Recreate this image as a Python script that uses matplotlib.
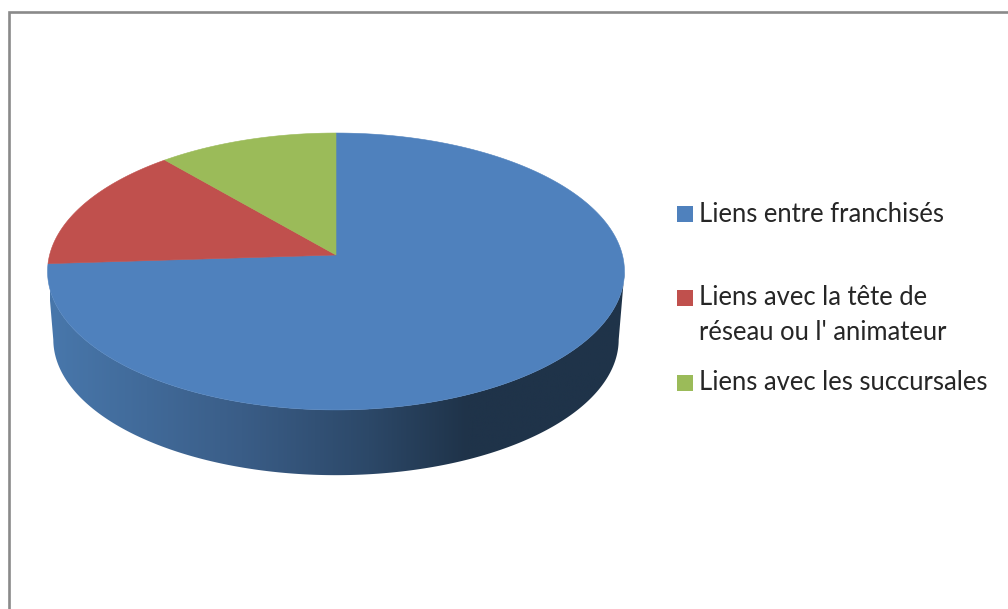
import numpy as np
import matplotlib
matplotlib.use("Agg")
import matplotlib.pyplot as plt
from matplotlib.colors import LinearSegmentedColormap
from matplotlib.path import Path
from matplotlib.patches import PathPatch, Rectangle
from matplotlib.transforms import Transform, Affine2D

# ---- data ----
categories = ["Liens entre franchisés",
              "Liens avec la tête de\nréseau ou l' animateur",
              "Liens avec les succursales"]
values = [74, 14.7, 11.3]
colors = ["#4F81BD", "#C0504D", "#9BBB59"]

# ---- layout (image pixels) ----
W, H = 1008, 609
CX, CY = 336.0, 255.0      # apex of the slices
RX, RY, Q = 286.4, 136.5, 0.119   # perspective of the disc
DROP, SHRINK = 68.0, 0.98  # depth of the side wall


class DiscPerspective(Transform):
    input_dims = output_dims = 2

    def transform_non_affine(self, values):
        v = np.asarray(values, float)
        d = 1 + Q * v[:, 1]
        return np.column_stack((CX + RX * v[:, 0] / d, CY - RY * v[:, 1] / d))

    def transform_path_non_affine(self, path):
        polys = path.transformed(Affine2D().scale(2000)).to_polygons(closed_only=True)
        return Path(self.transform_non_affine(np.vstack(polys) / 2000))


fig = plt.figure(figsize=(W / 100, H / 100), dpi=100, facecolor="white")
ax = fig.add_axes([0, 0, 1, 1])

wedges, _ = ax.pie(values, colors=colors, startangle=90, counterclock=False,
                   radius=1, wedgeprops={"linewidth": 0})
ax.set_aspect("auto")
ax.axis("off")

persp = DiscPerspective()
for w, c in zip(wedges, colors):
    w.set_transform(persp + ax.transData)
    w.set_zorder(3)
    w.set_edgecolor(c)
    w.set_linewidth(0.4)

# side wall of the disc, with horizontal shading
t = np.radians(np.linspace(0, 360, 1441))
rim = persp.transform_non_affine(np.column_stack((np.cos(t), np.sin(t))))
ecx = (rim[:, 0].max() + rim[:, 0].min()) / 2
ecy = (rim[:, 1].max() + rim[:, 1].min()) / 2
lower = rim[rim[:, 1] >= ecy]
lower = lower[np.argsort(lower[:, 0])]
base = np.column_stack((ecx + (lower[:, 0] - ecx) * SHRINK,
                        ecy + DROP + (lower[:, 1] - ecy) * SHRINK))
outline = np.vstack((lower, base[::-1]))
clip = PathPatch(Path(np.vstack((outline, outline[:1])), closed=True),
                 transform=ax.transData, fc="none", ec="none")
ax.add_patch(clip)
cmap = LinearSegmentedColormap.from_list(
    "side", [(0, "#4877AB"), (0.33, "#3A5D87"), (0.55, "#2C4868"),
             (0.72, "#1F3349"), (1, "#1F3349")])
grad = np.linspace(0, 1, 256)[None, :]
im = ax.imshow(grad, cmap=cmap, extent=[50, 630, 500, 250], aspect="auto", zorder=2)
im.set_clip_path(clip)
ax.set_xlim(0, W)
ax.set_ylim(H, 0)

# frame of the chart area
ax.plot([9, 9, W], [H, 12, 12], color="#8A8A8A", lw=1.9, solid_joinstyle="miter", zorder=1)

# legend
font = dict(family="Lato", fontsize=18.45, color="#262626", va="center", ha="left")
label_y = [214.5, 315, 383]
square_y = [213.5, 298, 382.5]
for c, lab, ly, sy in zip(colors, categories, label_y, square_y):
    ax.add_patch(Rectangle((677, sy - 8), 15.5, 16, fc=c, ec="none", zorder=3))
    ax.text(699, ly, lab, linespacing=1.53, **font)

fig.savefig("out.png", dpi=100, facecolor="white")
